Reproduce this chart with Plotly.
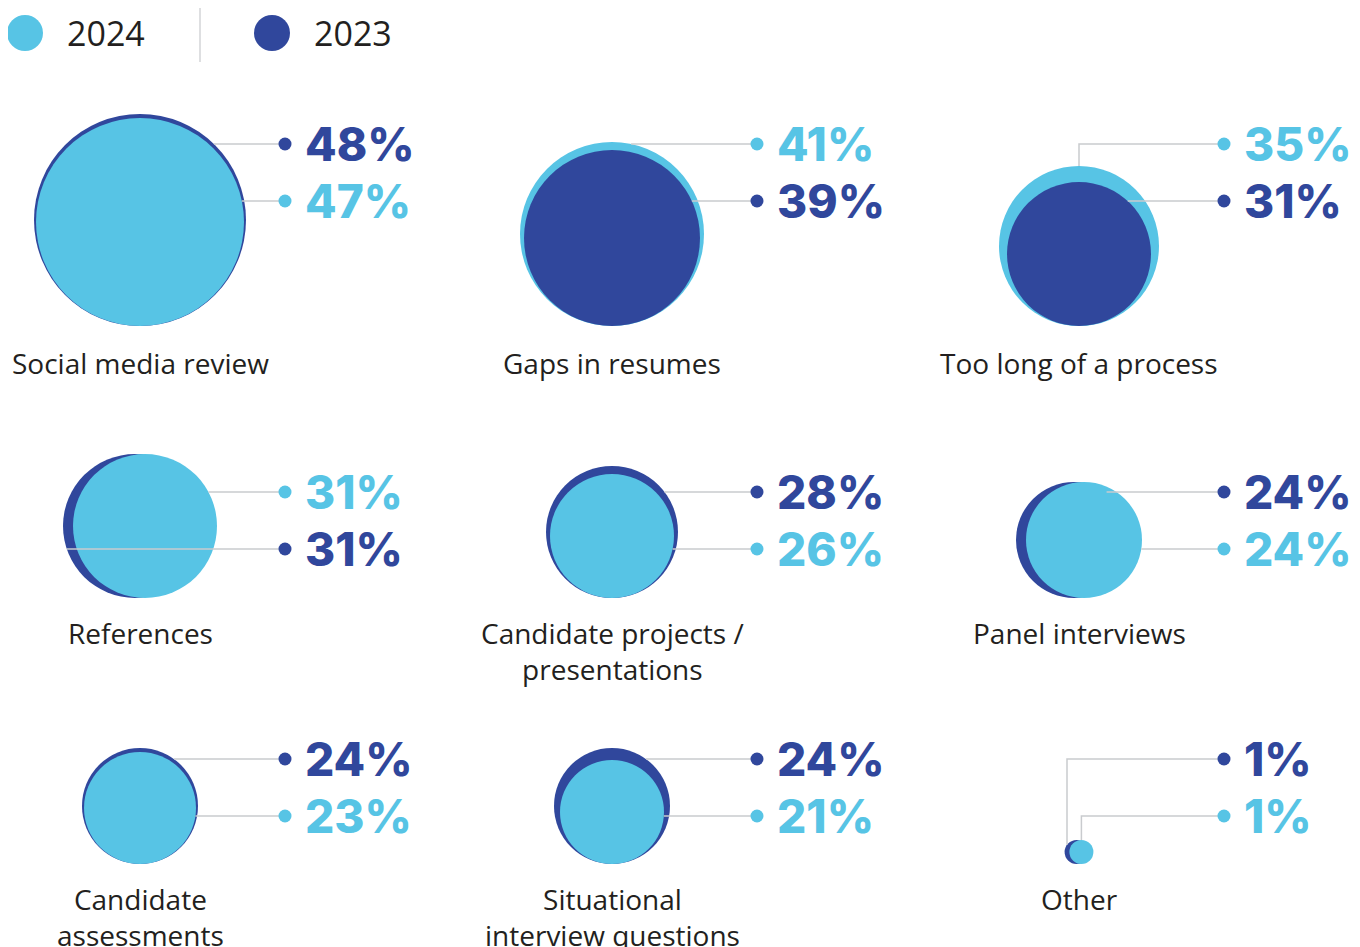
import math

import plotly.graph_objects as go

CATEGORIES = [
    "Social media review",
    "Gaps in resumes",
    "Too long of a process",
    "References",
    "Candidate projects /<br>presentations",
    "Panel interviews",
    "Candidate<br>assessments",
    "Situational<br>interview questions",
    "Other",
]
VALUES_2024 = [47, 41, 35, 31, 26, 24, 23, 21, 1]
VALUES_2023 = [48, 39, 31, 31, 28, 24, 24, 24, 1]
SERIES = ["2024", "2023"]

COLORS = {"2024": "#57c4e5", "2023": "#30479c"}
LINE_GRAY = "#c9cbce"
TEXT_DARK = "#231f20"

# layout of the 3x3 grid, in pixels
COL_X = [140, 612, 1079]
ROW_BASE = [326, 598, 864]
ROW_LINE1 = [144, 492, 759]
ROW_LABEL = [362, 632, 898]
LINE_GAP = 57
DOT_DX = 145
TEXT_DX = 163

# the page body has an 8px margin; shift the axes so pixels line up
PAGE_PAD = 8

NUM_FONT = "Inter"
LABEL_FONT = "Open Sans"
LABEL_SIZE = 28


def diameter(v):
    return 20 + 4 * v


fig = go.Figure()

for i, cat in enumerate(CATEGORIES):
    col, row = i % 3, i // 3
    cx0 = COL_X[col]
    base = ROW_BASE[row]
    vals = {"2024": VALUES_2024[i], "2023": VALUES_2023[i]}
    tie = vals["2024"] == vals["2023"]

    circles = {}
    for s in SERIES:
        d = diameter(vals[s])
        shift = 0
        if tie:
            shift = min(5, d * 0.1) * (1 if s == "2024" else -1)
        circles[s] = (cx0 + shift, base - d / 2, d / 2)

    # bigger circle behind; on ties 2024 sits in front
    if tie:
        order = ["2023", "2024"]
    else:
        order = sorted(SERIES, key=lambda s: -vals[s])
    for s in order:
        cx, cy, r = circles[s]
        fig.add_trace(
            go.Scatter(
                x=[cx],
                y=[cy],
                mode="markers",
                marker=dict(size=2 * r, color=COLORS[s], line=dict(width=0)),
                showlegend=False,
                hoverinfo="skip",
            )
        )

    # which value sits on the upper leader line
    if tie:
        top_first = ["2024", "2023"] if cat == "References" else ["2023", "2024"]
    else:
        top_first = sorted(SERIES, key=lambda s: -vals[s])

    for k, s in enumerate(top_first):
        cx, cy, r = circles[s]
        ly = ROW_LINE1[row] + k * LINE_GAP
        dot_x = cx0 + DOT_DX
        back = tie and s == "2023"
        dy = ly - cy
        if abs(dy) < r - 1:
            dx = math.sqrt(r * r - dy * dy)
            sx = cx - dx if (back and dy > 0) else cx + dx
            xs, ys = [sx, dot_x], [ly, ly]
        else:
            if back:
                ex, ey = cx - 0.8 * r, cy - 0.6 * r
            else:
                ex, ey = cx, cy - r
            xs, ys = [ex, ex, dot_x], [ey, ly, ly]
        fig.add_trace(
            go.Scatter(
                x=xs,
                y=ys,
                mode="lines",
                line=dict(color=LINE_GRAY, width=1.5),
                showlegend=False,
                hoverinfo="skip",
            )
        )
        fig.add_trace(
            go.Scatter(
                x=[dot_x],
                y=[ly],
                mode="markers",
                marker=dict(size=13, color=COLORS[s], line=dict(width=0)),
                showlegend=False,
                hoverinfo="skip",
            )
        )
        fig.add_annotation(
            x=cx0 + TEXT_DX,
            y=ly,
            text=f"{vals[s]}%",
            showarrow=False,
            xanchor="left",
            yanchor="middle",
            font=dict(family=NUM_FONT, size=46, color=COLORS[s], weight=800),
        )

    fig.add_annotation(
        x=cx0,
        y=ROW_LABEL[row] - 20,
        text=cat,
        showarrow=False,
        xanchor="center",
        yanchor="top",
        align="center",
        font=dict(family=LABEL_FONT, size=LABEL_SIZE, color=TEXT_DARK),
    )

# legend
for s, lx in zip(SERIES, [25, 272]):
    fig.add_trace(
        go.Scatter(
            x=[lx],
            y=[33],
            mode="markers",
            marker=dict(size=36, color=COLORS[s], line=dict(width=0)),
            showlegend=False,
            hoverinfo="skip",
        )
    )
    fig.add_annotation(
        x=lx + 40,
        y=33,
        text=s,
        showarrow=False,
        xanchor="left",
        yanchor="middle",
        font=dict(family=LABEL_FONT, size=34, color=TEXT_DARK),
    )
fig.add_shape(
    type="line", x0=200, x1=200, y0=-10, y1=62,
    line=dict(color="#d3d5d7", width=1.5),
)

fig.update_layout(
    width=1360,
    height=947,
    margin=dict(l=0, r=0, t=0, b=0),
    plot_bgcolor="white",
    paper_bgcolor="white",
    xaxis=dict(visible=False, range=[PAGE_PAD, 1360 + PAGE_PAD], fixedrange=True),
    yaxis=dict(visible=False, range=[947 + PAGE_PAD, PAGE_PAD], fixedrange=True),
    hovermode=False,
)

fig.write_html("out.html")
